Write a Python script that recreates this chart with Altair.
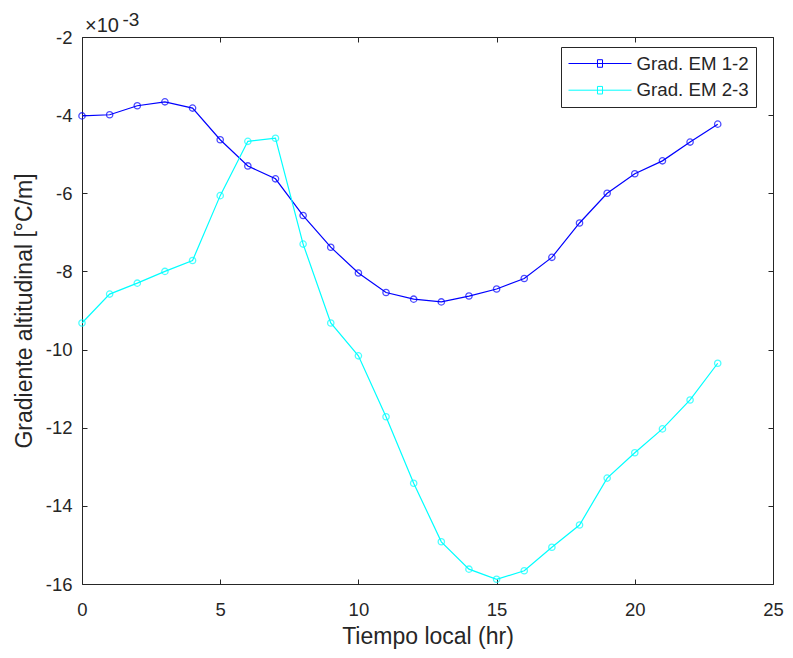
import altair as alt
import pandas as pd

# ---- data (values in units of 1e-3 °C/m) ----
hours = list(range(24))
em12 = [-4.02, -3.99, -3.76, -3.66, -3.82, -4.63, -5.30, -5.63, -6.57, -7.38,
        -8.04, -8.54, -8.71, -8.78, -8.63, -8.45, -8.18, -7.64, -6.76, -6.00,
        -5.50, -5.17, -4.69, -4.23]
em23 = [-9.32, -8.58, -8.30, -8.00, -7.72, -6.06, -4.67, -4.59, -7.30, -9.32,
        -10.16, -11.72, -13.42, -14.92, -15.62, -15.88, -15.66, -15.06, -14.49, -13.29,
        -12.64, -12.03, -11.29, -10.35]
series_names = ["Grad. EM 1-2", "Grad. EM 2-3"]
series_colors = ["#0000ff", "#00ffff"]
x_ticks = [0, 5, 10, 15, 20, 25]
y_ticks = [-16, -14, -12, -10, -8, -6, -4, -2]
x_title = "Tiempo local (hr)"
y_title = "Gradiente altitudinal [°C/m]"
exp_base = "×10"
exp_power = "-3"

df = pd.DataFrame({
    "hour": hours + hours,
    "value": em12 + em23,
    "series": [series_names[0]] * len(hours) + [series_names[1]] * len(hours),
})

W, H = 691, 547
FONT = "Liberation Sans"
AX = "#262626"
TICK_FS = 18.5
TITLE_FS = 23
LABEL_EXPR = "'' + datum.value"

xs = alt.Scale(domain=[x_ticks[0], x_ticks[-1]], nice=False, zero=False)
ys = alt.Scale(domain=[y_ticks[0], y_ticks[-1]], nice=False, zero=False)
cs = alt.Scale(domain=series_names, range=series_colors)

base = alt.Chart(df)

lines = base.mark_line(strokeWidth=1.2).encode(
    x=alt.X("hour:Q", scale=xs, axis=alt.Axis(
        orient="bottom", values=x_ticks, ticks=False, domain=False, grid=False,
        labelFont=FONT, labelFontSize=TICK_FS, labelColor=AX, labelPadding=16,
        labelFlush=False, labelOverlap=False, labelExpr=LABEL_EXPR,
        title=x_title, titleFont=FONT, titleFontSize=TITLE_FS, titleFontWeight="normal",
        titleColor=AX, titlePadding=7)),
    y=alt.Y("value:Q", scale=ys, axis=alt.Axis(
        orient="left", values=y_ticks, ticks=False, domain=False, grid=False,
        labelFont=FONT, labelFontSize=TICK_FS, labelColor=AX, labelPadding=10,
        labelFlush=False, labelOverlap=False, labelExpr=LABEL_EXPR,
        title=y_title, titleFont=FONT, titleFontSize=TITLE_FS, titleFontWeight="normal",
        titleColor=AX, titleX=-51, titleY=H / 2, titleBaseline="alphabetic",
        titleAngle=270, titleAlign="center")),
    color=alt.Color("series:N", scale=cs, legend=alt.Legend(
        title=None, orient="none", legendX=479, legendY=10,
        symbolType="M-1,0H6M2.22,-0.42H2.78V0.42H2.22Z",
        symbolSize=324, symbolStrokeWidth=1, symbolFillColor="transparent",
        labelFont=FONT, labelFontSize=18.7, labelColor=AX, labelOffset=49.5,
        padding=7, strokeColor=AX, fillColor="white", rowPadding=6.7, cornerRadius=0)),
)

points = base.mark_point(shape="circle", size=40, filled=False, strokeWidth=1.3).encode(
    x=alt.X("hour:Q", scale=xs, axis=alt.Axis(
        orient="top", offset=-H, values=x_ticks, labels=False, domain=False, grid=False,
        ticks=True, tickSize=5, tickColor=AX, tickWidth=1, title=None)),
    y=alt.Y("value:Q", scale=ys, axis=alt.Axis(
        orient="right", offset=-W, values=y_ticks, labels=False, domain=False, grid=False,
        ticks=True, tickSize=5, tickColor=AX, tickWidth=1, title=None)),
    color=alt.Color("series:N", scale=cs, legend=None),
)

ticks_far = base.mark_point(opacity=0).encode(
    x=alt.X("hour:Q", scale=xs, axis=alt.Axis(
        orient="bottom", offset=-H, values=x_ticks, labels=False, domain=False, grid=False,
        ticks=True, tickSize=5, tickColor=AX, tickWidth=1, title=None)),
    y=alt.Y("value:Q", scale=ys, axis=alt.Axis(
        orient="left", offset=-W, values=y_ticks, labels=False, domain=False, grid=False,
        ticks=True, tickSize=5, tickColor=AX, tickWidth=1, title=None)),
)

exp_df = pd.DataFrame({"a": [exp_base], "b": [exp_power]})
exp1 = alt.Chart(exp_df).mark_text(
    font=FONT, fontSize=20, color=AX, align="left", baseline="alphabetic"
).encode(text="a:N", x=alt.value(3), y=alt.value(-5.5))
exp2 = alt.Chart(exp_df).mark_text(
    font=FONT, fontSize=19, color=AX, align="left", baseline="alphabetic"
).encode(text="b:N", x=alt.value(40.5), y=alt.value(-11.5))

chart = alt.layer(lines, points, ticks_far, exp1, exp2).resolve_axis(
    x="independent", y="independent"
).properties(
    width=W, height=H,
    autosize=alt.AutoSizeParams(type="none"),
    padding={"left": 74, "top": 29, "right": 11, "bottom": 66},
    background="white",
).configure_view(stroke=AX, strokeWidth=1)

chart.save("out.html", embed_options={"renderer": "svg", "actions": False})
